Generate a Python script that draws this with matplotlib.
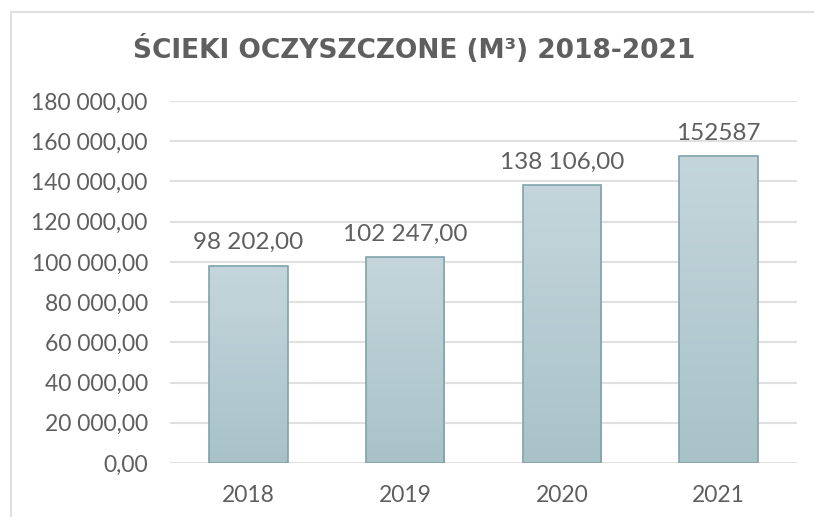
import matplotlib
matplotlib.use("Agg")
import matplotlib.pyplot as plt
import numpy as np
from matplotlib.lines import Line2D
from matplotlib.ticker import FuncFormatter
from matplotlib.colors import LinearSegmentedColormap

years = ["2018", "2019", "2020", "2021"]
values = [98202.00, 102247.00, 138106.00, 152587]
value_labels = ["98 202,00", "102 247,00", "138 106,00", "152587"]
title = "ŚCIEKI OCZYSZCZONE (M³) 2018-2021"

plt.rcParams['font.family'] = ['Lato', 'DejaVu Sans']
text_color = "#5f5f5f"

fig = plt.figure(figsize=(8.14, 5.17), dpi=100)
fig.patch.set_facecolor("white")
ax = fig.add_axes([170/814, 1-463/517, (797-170)/814, (463-101)/517])

x = np.arange(len(years))
bars = ax.bar(x, values, width=0.5, color="none", edgecolor="#7fa3aa", linewidth=1.2, zorder=3)

grad = np.linspace(0, 1, 256).reshape(-1, 1)
cmap = LinearSegmentedColormap.from_list("g", ["#a8c2c8", "#c4d6db"])
for b in bars:
    x0, y0 = b.get_x(), b.get_y()
    w, h = b.get_width(), b.get_height()
    im = ax.imshow(grad, extent=[x0, x0 + w, y0, y0 + h], origin="lower", aspect="auto",
                   cmap=cmap, zorder=2)
    im.set_clip_path(b)

for xi, v, lab in zip(x, values, value_labels):
    ax.annotate(lab, (xi, v), xytext=(0, 9), textcoords="offset points", ha="center",
                va="bottom", fontsize=17.5, color=text_color)

ax.set_xlim(-0.5, 3.5)
ax.set_ylim(0, 180000)
ax.set_yticks(np.arange(0, 180001, 20000))
ax.yaxis.set_major_formatter(FuncFormatter(lambda v, p: f"{int(v):,}".replace(",", " ") + ",00"))
ax.set_xticks(x)
ax.set_xticklabels(years)
ax.grid(axis="y", color="#e0e0e0", linewidth=1.5, zorder=0)
ax.set_axisbelow(True)
for s in ax.spines.values():
    s.set_visible(False)
ax.tick_params(axis="both", length=0, labelsize=16.5, labelcolor=text_color)
ax.tick_params(axis="y", pad=16)
ax.tick_params(axis="x", pad=16)

fig.text(414/814, 1-49/517, title, ha="center", va="center", fontsize=19, fontweight="bold",
         color=text_color, family="DejaVu Sans")

# chart frame
fig.add_artist(Line2D([11/814, 11/814], [0, 1-12/517], color="#e0e0e0", linewidth=1.5))
fig.add_artist(Line2D([11/814, 1], [1-12/517, 1-12/517], color="#e0e0e0", linewidth=1.5))

fig.savefig("out.png", dpi=100, facecolor="white")
